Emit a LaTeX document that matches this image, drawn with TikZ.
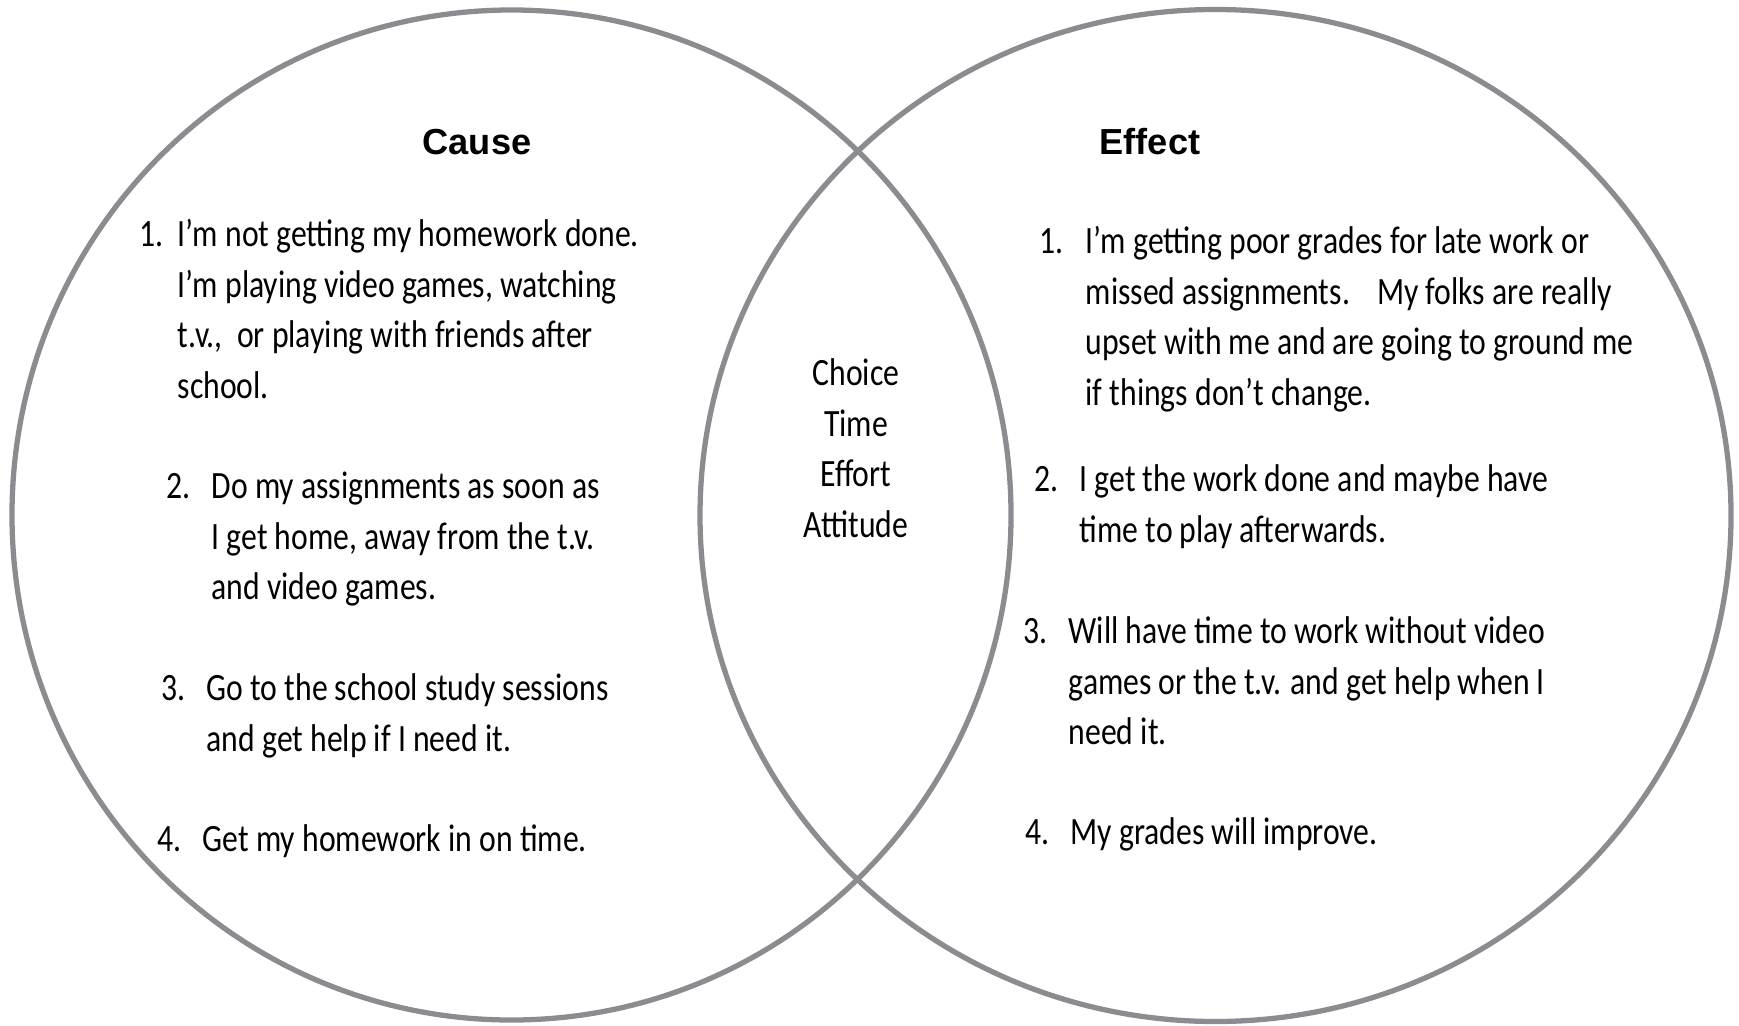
\documentclass[tikz,border=0pt]{standalone}
\usepackage{fontspec}
\setmainfont{Carlito}[FakeStretch=0.82]
\newfontfamily\headfont{Liberation Sans}
\usetikzlibrary{positioning}
\definecolor{rimgray}{RGB}{138,140,144}

\begin{document}
\begin{tikzpicture}[node distance=0.2cm]
    \tikzstyle{item} = [anchor=north west,align=left,inner sep=0pt,font=\fontsize{11pt}{14.4pt}\selectfont]
    \tikzstyle{num} = [inner sep=0pt,font=\fontsize{11pt}{14.4pt}\selectfont]
    \tikzstyle{head} = [inner sep=0pt,font={\fontsize{10.3pt}{12pt}\headfont\bfseries}]
    \tikzstyle{set} = [draw=rimgray,line width=1.5pt]

    \useasboundingbox (0,0) rectangle (17.39,-10.25);

    \draw [set] (5.115,-5.15) ellipse [x radius=4.995,y radius=5.05];
    \draw [set] (12.155,-5.155) ellipse [x radius=5.155,y radius=5.06];

    \node (cause) [head] at (4.77,-1.42) {Cause};
    \node (effect) [head] at (11.50,-1.42) {Effect};

    % cause side
    \node (c1) [item] at (1.77,-2.104) {\strut I’m not getting my homework done.\\I’m playing video games, watching\\t.v.,\ \ or playing with friends after\\school.};
    \node (c1n) [num,left=0.13cm of c1.north west,anchor=north east] {\strut 1.};

    \node (c2) [item] at (2.11,-4.624) {\strut Do my assignments as soon as\\I get home, away from the t.v.\\and video games.};
    \node (c2n) [num,left=of c2.north west,anchor=north east] {\strut 2.};

    \node (c3) [item] at (2.06,-6.644) {\strut Go to the school study sessions\\and get help if I need it.};
    \node (c3n) [num,left=of c3.north west,anchor=north east] {\strut 3.};

    \node (c4) [item] at (2.02,-8.154) {\strut Get my homework in on time.};
    \node (c4n) [num,left=of c4.north west,anchor=north east] {\strut 4.};

    % overlap
    \node (both) [item,anchor=north,align=center] at (8.56,-3.494) {\strut Choice\\Time\\Effort\\Attitude};

    % effect side
    \node (e1) [item] at (10.85,-2.174) {\strut I’m getting poor grades for late work or\\missed assignments.\hspace{5pt} My folks are really\\upset with me and are going to ground me\\if things don’t change.};
    \node (e1n) [num,left=0.21cm of e1.north west,anchor=north east] {\strut 1.};

    \node (e2) [item] at (10.79,-4.554) {\strut I get the work done and maybe have\\time to play afterwards.};
    \node (e2n) [num,left=of e2.north west,anchor=north east] {\strut 2.};

    \node (e3) [item] at (10.68,-6.074) {\strut Will have time to work without video\\games or the t.v. and get help when I\\need it.};
    \node (e3n) [num,left=of e3.north west,anchor=north east] {\strut 3.};

    \node (e4) [item] at (10.70,-8.084) {\strut My grades will improve.};
    \node (e4n) [num,left=of e4.north west,anchor=north east] {\strut 4.};

\end{tikzpicture}
\end{document}
